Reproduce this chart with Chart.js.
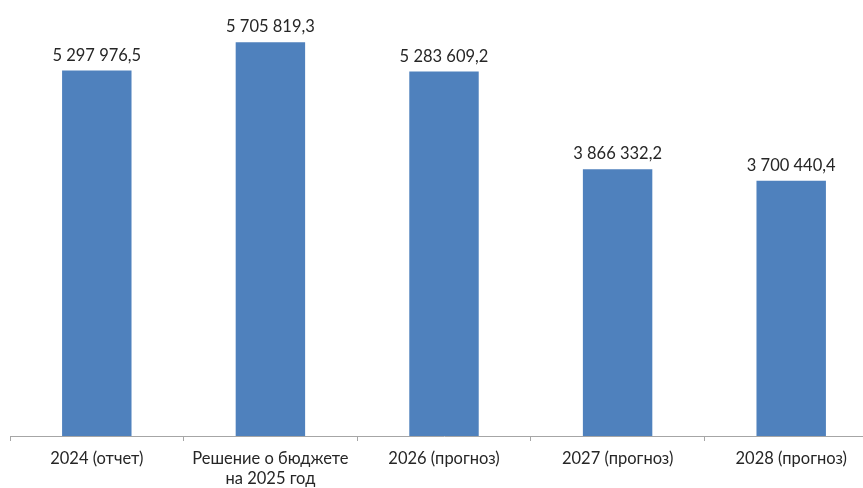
<!DOCTYPE html>
<html>
<head>
<meta charset="utf-8">
<script src="https://cdn.jsdelivr.net/npm/chart.js@4/dist/chart.umd.min.js"></script>
<style>
html,body{margin:0;padding:0;background:#fff;overflow:hidden;}
#wrap{position:absolute;left:0;top:0;width:878px;height:488px;}
</style>
</head>
<body>
<div id="wrap"><canvas id="c" width="878" height="488"></canvas></div>
<script>
const categories = ["2024 (отчет)", ["Решение о бюджете", "на 2025 год"], "2026 (прогноз)", "2027 (прогноз)", "2028 (прогноз)"];
const values = [5297976.5, 5705819.3, 5283609.2, 3866332.2, 3700440.4];
const valueLabels = ["5 297 976,5", "5 705 819,3", "5 283 609,2", "3 866 332,2", "3 700 440,4"];

const FONT = "Lato, 'Open Sans', sans-serif";

const labelPlugin = {
  id: 'valueLabels',
  afterDatasetsDraw(chart) {
    const ctx = chart.ctx;
    const meta = chart.getDatasetMeta(0);
    ctx.save();
    ctx.font = "16.5px " + FONT;
    ctx.fillStyle = "#262626";
    ctx.textAlign = "center";
    ctx.textBaseline = "bottom";
    meta.data.forEach((bar, i) => {
      ctx.fillText(valueLabels[i], bar.x, bar.y - 7);
    });
    ctx.restore();
  }
};

new Chart(document.getElementById('c'), {
  type: 'bar',
  data: {
    labels: categories,
    datasets: [{
      data: values,
      backgroundColor: '#4F81BD',
      borderWidth: 0,
      barPercentage: 0.4,
      categoryPercentage: 1.0
    }]
  },
  options: {
    responsive: false,
    animation: false,
    devicePixelRatio: 1,
    layout: { padding: { left: 10, right: 0, top: 22, bottom: 0 } },
    plugins: { legend: { display: false }, tooltip: { enabled: false } },
    scales: {
      y: { display: false, min: 0, max: 6000000 },
      x: {
        offset: true,
        grid: { offset: true, drawOnChartArea: false, drawTicks: true, tickLength: 5, color: '#A6A6A6' },
        border: { display: true, color: '#A6A6A6', width: 1 },
        ticks: { color: '#262626', font: { family: FONT, size: 16.5 }, padding: 8, maxRotation: 0, autoSkip: false },
        afterFit(scale) { scale.height = 52; }
      }
    }
  },
  plugins: [labelPlugin]
});
</script>
</body>
</html>
